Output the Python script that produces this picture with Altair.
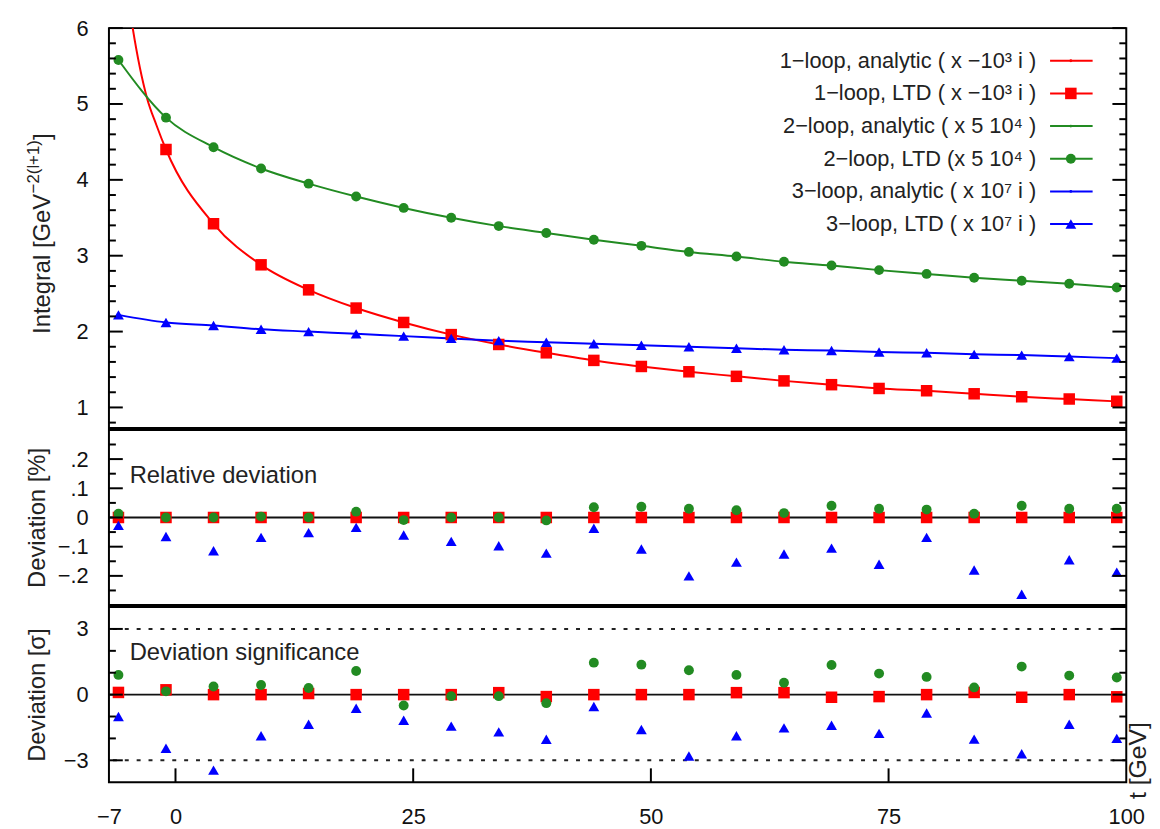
import altair as alt
import pandas as pd

# ---------------- data ----------------
t_points = [-6, -1, 4, 9, 14, 19, 24, 29, 34, 39, 44, 49, 54, 59, 64, 69, 74, 79, 84, 89, 94, 99]

# main panel (scaled integrals)
one_loop = [7.40, 4.40, 3.42, 2.88, 2.55, 2.31, 2.12, 1.96, 1.83, 1.72, 1.62, 1.54,
            1.47, 1.41, 1.35, 1.30, 1.25, 1.22, 1.18, 1.14, 1.11, 1.08]
one_loop_curve_t = [-4.5, -3, -2]          # extra readings of the steep analytic curve
one_loop_curve = [6.00, 5.08, 4.72]
two_loop = [5.58, 4.82, 4.43, 4.15, 3.95, 3.78, 3.63, 3.50, 3.39, 3.30, 3.21, 3.13,
            3.05, 2.99, 2.92, 2.87, 2.81, 2.76, 2.71, 2.67, 2.63, 2.58]
three_loop = [2.22, 2.12, 2.08, 2.03, 2.00, 1.97, 1.94, 1.91, 1.88, 1.86, 1.84, 1.82,
              1.80, 1.78, 1.76, 1.75, 1.73, 1.72, 1.70, 1.69, 1.67, 1.65]

# relative deviation [%]
rel_one = [0.0, 0.0, 0.0, 0.0, 0.0, 0.0, 0.0, 0.0, 0.0, 0.0, 0.0, 0.0,
           0.0, 0.0, 0.0, 0.0, 0.0, 0.0, 0.0, 0.0, 0.0, 0.0]
rel_two = [0.013, 0.0, 0.0, 0.003, 0.0, 0.02, -0.009, 0.0, 0.0, -0.01, 0.035, 0.037,
           0.03, 0.025, 0.015, 0.04, 0.03, 0.027, 0.013, 0.04, 0.03, 0.03]
rel_three = [-0.027, -0.065, -0.114, -0.068, -0.052, -0.034, -0.06, -0.082, -0.097, -0.122, -0.037, -0.108,
             -0.2, -0.153, -0.125, -0.105, -0.16, -0.068, -0.18, -0.263, -0.145, -0.187]

# deviation significance [sigma]
sig_one = [0.1, 0.22, 0.0, 0.0, 0.05, 0.0, 0.0, 0.0, 0.09, -0.09, 0.0, 0.0,
           0.0, 0.09, 0.09, -0.12, -0.09, 0.0, 0.1, -0.12, 0.0, -0.1]
sig_two = [0.9, 0.15, 0.37, 0.44, 0.3, 1.08, -0.5, -0.07, -0.07, -0.39, 1.46, 1.37,
           1.11, 0.9, 0.54, 1.35, 0.96, 0.81, 0.33, 1.28, 0.87, 0.78]
sig_three = [-1.0, -2.45, -3.45, -1.88, -1.35, -0.62, -1.17, -1.44, -1.7, -2.04, -0.54, -1.59,
             -2.8, -1.88, -1.52, -1.4, -1.77, -0.84, -2.03, -2.7, -1.35, -2.0]

legend_labels = [
    "1\u2212loop, analytic ( x \u221210\u00b3 i )",
    "1\u2212loop, LTD ( x \u221210\u00b3 i )",
    "2\u2212loop, analytic ( x 5 10\u2074 )",
    "2\u2212loop, LTD  (x 5 10\u2074 )",
    "3\u2212loop, analytic ( x 10\u2077 i )",
    "3\u2212loop, LTD ( x 10\u2077 i )",
]
# top y title drawn in three pieces so the exponent can be raised and smaller
y_title_top_parts = ["Integral [GeV", "\u22122(l+1)", "]"]
y_title_mid = "Deviation [%]"
y_title_bot = "Deviation [\u03c3]"
x_title = "t [GeV]"
panel_labels = ["Relative deviation", "Deviation significance"]

x_ticks = [-7, 0, 25, 50, 75, 100]
x_inner_ticks = [0, 25, 50, 75]
top_major = [1, 2, 3, 4, 5, 6]
top_minor = [0.8, 1.2, 1.4, 1.6, 1.8, 2.2, 2.4, 2.6, 2.8, 3.2, 3.4, 3.6, 3.8,
             4.2, 4.4, 4.6, 4.8, 5.2, 5.4, 5.6, 5.8]
mid_major = [-0.2, -0.1, 0, 0.1, 0.2]
mid_minor = [-0.25, -0.15, -0.05, 0.05, 0.15, 0.25]
bot_major = [-3, 0, 3]
bot_minor = [-2, -1, 1, 2]

# ---------------- styles ----------------
RED, GREEN, BLUE = "#ff0000", "#228b22", "#0000ff"
FONT = "Liberation Sans"
W = 1028
H_TOP, H_MID, H_BOT = 404, 177, 177
SQ, CI, TR = 135, 100, 120


def xs():
    return alt.Scale(domain=[-7, 100], nice=False, zero=False)


def ys(dom):
    return alt.Scale(domain=dom, nice=False, zero=False)


def tick_layers(major, minor, dom, yaxis):
    out = []
    for vals, L in ((major, 14), (minor, 7)):
        base = alt.Chart(pd.DataFrame({"v": vals}))
        out.append(base.mark_rule(color="black", strokeWidth=2).encode(
            x=alt.value(0), x2=alt.value(L), y=alt.Y("v:Q", scale=ys(dom), axis=yaxis)))
        out.append(base.mark_rule(color="black", strokeWidth=2).encode(
            x=alt.value(W - L), x2=alt.value(W), y=alt.Y("v:Q", scale=ys(dom), axis=yaxis)))
    return out


def points(t, v, shape, size, color, dom, xaxis, yaxis, clip=False):
    df = pd.DataFrame({"t": t, "v": v})
    return alt.Chart(df).mark_point(shape=shape, size=size, filled=True, opacity=1,
                                    color=color, clip=clip).encode(
        x=alt.X("t:Q", scale=xs(), axis=xaxis),
        y=alt.Y("v:Q", scale=ys(dom), axis=yaxis))


def label(txt, x, y, size, angle=0, align="left", baseline="alphabetic"):
    kw = dict(align=align, baseline=baseline, font=FONT, fontSize=size, color="#222")
    if angle:
        kw["angle"] = angle
    return alt.Chart(pd.DataFrame({"label": [txt]})).mark_text(**kw).encode(
        x=alt.value(x), y=alt.value(y), text="label:N")


# ---------------- top panel ----------------
DOM_TOP = [0.73, 6]
axis_top = alt.Axis(title=None, values=top_major, format="d")

red_curve = pd.DataFrame({"t": t_points + one_loop_curve_t,
                          "v": one_loop + one_loop_curve}).sort_values("t")


def line(df, color):
    return alt.Chart(df).mark_line(color=color, strokeWidth=2, clip=True,
                                   interpolate="monotone").encode(
        x=alt.X("t:Q", scale=xs(), axis=None),
        y=alt.Y("v:Q", scale=ys(DOM_TOP), axis=axis_top))


top_layers = [
    line(red_curve, RED),
    line(pd.DataFrame({"t": t_points, "v": two_loop}), GREEN),
    line(pd.DataFrame({"t": t_points, "v": three_loop}), BLUE),
    points(t_points, one_loop, "square", SQ, RED, DOM_TOP, None, axis_top, clip=True),
    points(t_points, two_loop, "circle", CI, GREEN, DOM_TOP, None, axis_top, clip=True),
    points(t_points, three_loop, "triangle-up", TR, BLUE, DOM_TOP, None, axis_top, clip=True),
]
top_layers += tick_layers(top_major, top_minor, DOM_TOP, axis_top)

# y title of the top panel (rotated, with raised exponent)
top_layers += [
    label(y_title_top_parts[0], -60, 309, 24, angle=270),
    label(y_title_top_parts[1], -71, 167, 17, angle=270),
    label(y_title_top_parts[2], -60, 113, 24, angle=270),
]

# legend (top right), one row at a time, positioned in pixels
leg_colors = [RED, RED, GREEN, GREEN, BLUE, BLUE]
leg_shapes = ["circle", "square", "circle", "circle", "circle", "triangle-up"]
leg_sizes = [8, SQ, 8, CI, 8, TR]
for i, lab in enumerate(legend_labels):
    py = 33 * (i + 1)
    base = alt.Chart(pd.DataFrame({"label": [lab]}))
    top_layers += [
        base.mark_text(align="right", baseline="middle", font=FONT, fontSize=22,
                       color="#222").encode(x=alt.value(937), y=alt.value(py), text="label:N"),
        base.mark_rule(strokeWidth=2, color=leg_colors[i]).encode(
            x=alt.value(951), x2=alt.value(994), y=alt.value(py)),
        base.mark_point(filled=True, opacity=1, color=leg_colors[i], shape=leg_shapes[i],
                        size=leg_sizes[i]).encode(x=alt.value(972), y=alt.value(py)),
    ]
top = alt.layer(*top_layers).properties(width=W, height=H_TOP)

# ---------------- middle panel ----------------
DOM_MID = [-0.3, 0.3]
axis_mid = alt.Axis(title=y_title_mid, values=mid_major,
                    labelExpr="datum.value == 0 ? '0' : replace(format(datum.value, '.1f'), '0.', '.')")
mid_layers = [
    alt.Chart(pd.DataFrame({"v": [0]})).mark_rule(color="#111", strokeWidth=2).encode(
        y=alt.Y("v:Q", scale=ys(DOM_MID), axis=axis_mid)),
    points(t_points, rel_one, "square", SQ, RED, DOM_MID, None, axis_mid),
    points(t_points, rel_two, "circle", CI, GREEN, DOM_MID, None, axis_mid),
    points(t_points, rel_three, "triangle-up", TR, BLUE, DOM_MID, None, axis_mid),
    label(panel_labels[0], 21, 54, 24),
]
mid_layers += tick_layers(mid_major, mid_minor, DOM_MID, axis_mid)
mid = alt.layer(*mid_layers).properties(width=W, height=H_MID)

# ---------------- bottom panel ----------------
DOM_BOT = [-4, 4]
axis_bot = alt.Axis(title=y_title_bot, values=bot_major, format="d")
axis_x = alt.Axis(values=x_ticks, title=None, labelFlush=False, labelOverlap=False,
                  labelPadding=25, format="d")
bot_layers = [
    alt.Chart(pd.DataFrame({"v": [0]})).mark_rule(color="#111", strokeWidth=2).encode(
        y=alt.Y("v:Q", scale=ys(DOM_BOT), axis=axis_bot)),
    alt.Chart(pd.DataFrame({"v": [-3, 3]})).mark_rule(color="#222", strokeWidth=2,
                                                      strokeDash=[4, 8]).encode(
        y=alt.Y("v:Q", scale=ys(DOM_BOT), axis=axis_bot)),
    points(t_points, sig_one, "square", SQ, RED, DOM_BOT, axis_x, axis_bot),
    points(t_points, sig_two, "circle", CI, GREEN, DOM_BOT, axis_x, axis_bot),
    points(t_points, sig_three, "triangle-up", TR, BLUE, DOM_BOT, axis_x, axis_bot),
    alt.Chart(pd.DataFrame({"v": x_inner_ticks})).mark_rule(color="black", strokeWidth=2).encode(
        x=alt.X("v:Q", scale=xs(), axis=axis_x), y=alt.value(H_BOT - 14), y2=alt.value(H_BOT)),
    label(panel_labels[1], 21, 54, 24),
    label(x_title, W + 20, H_BOT + 17, 25, angle=270),
]
bot_layers += tick_layers(bot_major, bot_minor, DOM_BOT, axis_bot)
bot = alt.layer(*bot_layers).properties(width=W, height=H_BOT)

chart = (
    alt.vconcat(top, mid, bot, spacing=0)
    .configure_view(stroke="black", strokeWidth=2)
    .configure_axis(labelFont=FONT, titleFont=FONT, labelFontSize=22, titleFontSize=24,
                    titleFontWeight="normal", labelColor="#111", titleColor="#222",
                    grid=False, ticks=False, domain=False)
    .configure_axisY(labelPadding=21, minExtent=44, maxExtent=44, titlePadding=16)
    .properties(padding={"left": 16, "top": 4, "right": 0, "bottom": 0})
)

chart.save("out.html", embed_options={"renderer": "svg", "actions": False})
